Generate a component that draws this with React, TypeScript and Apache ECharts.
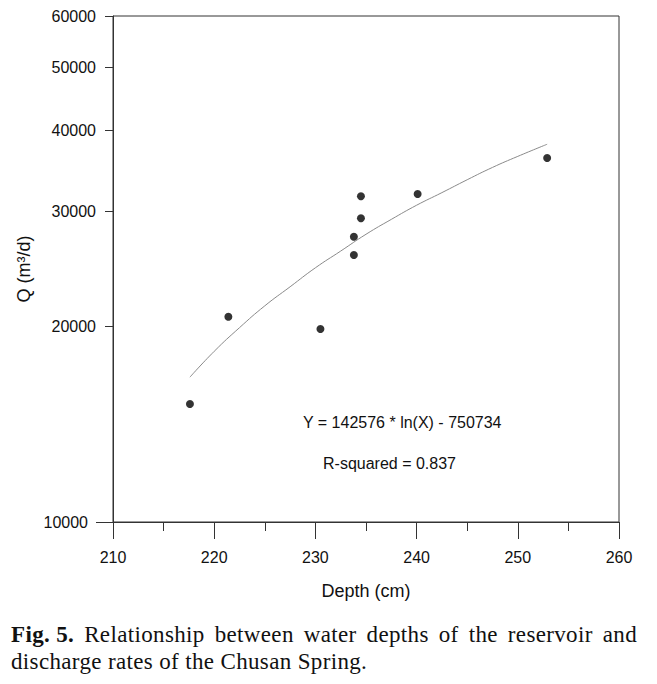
import React, { useEffect, useRef } from "react";
import * as echarts from "echarts";

const depthValues = [217.6, 221.4, 230.5, 233.8, 233.8, 234.5, 234.5, 240.1, 252.9];
const dischargeValues = [15190, 20690, 19810, 25740, 27460, 29310, 31690, 31950, 36280];

// fitted curve
const fitDepth = [217.6, 220, 222.5, 225, 227.5, 230, 232.5, 235, 237.5, 240, 242.5, 245, 247.5, 250, 252.9];
const fitDischarge = [16700, 18300, 19900, 21500, 23000, 24600, 26100, 27700, 29200, 30700, 32100, 33600, 35100, 36500, 38100];

const majorYTicks = [10000];
const minorYTicks = [20000, 30000, 40000, 50000, 60000];

const equationText = "Y = 142576 * ln(X) - 750734";
const rSquaredText = "R-squared = 0.837";
const xName = "Depth (cm)";
const yName = "Q (m³/d)";
const captionLabel = "Fig. 5.";
const captionLine1 = "Relationship between water depths of the reservoir and";
const captionLine2 = "discharge rates of the Chusan Spring.";

const FONT = "'Liberation Sans', Arial, sans-serif";
const AXIS_COLOR = "#333";

export default function App() {
  const ref = useRef<HTMLDivElement>(null);

  useEffect(() => {
    document.body.style.margin = "0";
    if (!ref.current) return;
    const chart = echarts.init(ref.current, null, { renderer: "svg" });
    const baseY = {
      type: "log" as const,
      logBase: 10,
      min: 10000,
      max: 60000,
      splitLine: { show: false },
      minorTick: { show: false },
      minorSplitLine: { show: false },
    };
    chart.setOption({
      animation: false,
      backgroundColor: "#fff",
      grid: {
        left: 113,
        top: 16,
        right: 38,
        bottom: 162,
        show: true,
        borderColor: AXIS_COLOR,
        borderWidth: 1,
        backgroundColor: "transparent",
      },
      xAxis: {
        type: "value",
        min: 210,
        max: 260,
        interval: 10,
        name: xName,
        nameLocation: "middle",
        nameGap: 60,
        nameTextStyle: { fontFamily: FONT, fontSize: 18, color: "#111" },
        axisLine: { show: true, lineStyle: { color: AXIS_COLOR, width: 1 } },
        axisTick: { show: true, length: 17, lineStyle: { color: AXIS_COLOR } },
        minorTick: { show: true, splitNumber: 2, length: 9, lineStyle: { color: AXIS_COLOR } },
        splitLine: { show: false },
        minorSplitLine: { show: false },
        axisLabel: { fontFamily: FONT, fontSize: 16, color: "#111", margin: 27 },
      },
      yAxis: [
        {
          ...baseY,
          name: yName,
          nameLocation: "middle",
          nameGap: 77,
          nameTextStyle: { fontFamily: FONT, fontSize: 18, color: "#111" },
          axisLine: { show: true, lineStyle: { color: AXIS_COLOR, width: 1 } },
          axisTick: { show: true, length: 17, customValues: majorYTicks, lineStyle: { color: AXIS_COLOR } },
          axisLabel: {
            fontFamily: FONT,
            fontSize: 16,
            color: "#111",
            margin: 25,
            customValues: majorYTicks,
            formatter: (v: number) => String(Math.round(v)),
          },
        },
        {
          ...baseY,
          position: "left",
          axisLine: { show: false },
          axisTick: { show: true, length: 8, customValues: minorYTicks, lineStyle: { color: AXIS_COLOR } },
          axisLabel: {
            fontFamily: FONT,
            fontSize: 16,
            color: "#111",
            margin: 17,
            customValues: minorYTicks,
            formatter: (v: number) => String(Math.round(v)),
          },
        },
      ],
      series: [
        {
          type: "line",
          yAxisIndex: 0,
          data: fitDepth.map((d, i) => [d, fitDischarge[i]]),
          symbol: "none",
          smooth: true,
          lineStyle: { color: "#8a8a8a", width: 1 },
          silent: true,
        },
        {
          type: "scatter",
          yAxisIndex: 0,
          data: depthValues.map((d, i) => [d, dischargeValues[i]]),
          symbol: "circle",
          symbolSize: 8,
          itemStyle: { color: "#000" },
        },
      ],
      graphic: [
        {
          type: "text",
          left: 303,
          top: 414,
          style: { text: equationText, font: `16px ${FONT}`, fill: "#111" },
        },
        {
          type: "text",
          left: 323,
          top: 455,
          style: { text: rSquaredText, font: `16px ${FONT}`, fill: "#111" },
        },
      ],
    });
    return () => chart.dispose();
  }, []);

  const captionStyle: React.CSSProperties = {
    position: "absolute",
    left: 11,
    width: 626,
    fontFamily: "'Liberation Serif', 'Times New Roman', serif",
    fontSize: 23,
    lineHeight: "27px",
    letterSpacing: "0.35px",
    color: "#111",
    whiteSpace: "nowrap",
  };

  return (
    <div style={{ position: "relative", width: 657, height: 684, background: "#fff" }}>
      <div ref={ref} style={{ position: "absolute", left: 0, top: 0, width: 657, height: 684 }} />
      <div style={{ ...captionStyle, top: 621, display: "flex", justifyContent: "space-between" }}>
        <b>{captionLabel}</b>
        {captionLine1.split(" ").map((w, i) => (
          <span key={i}>{w}</span>
        ))}
      </div>
      <div style={{ ...captionStyle, top: 648 }}>{captionLine2}</div>
    </div>
  );
}
